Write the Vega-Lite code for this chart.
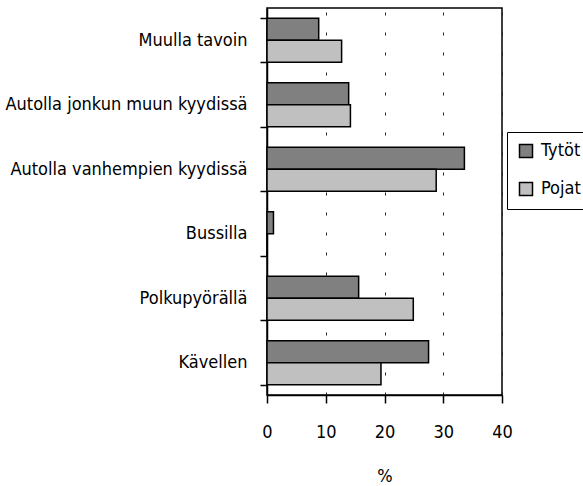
{
  "$schema": "https://vega.github.io/schema/vega-lite/v6.json",
  "width": 235,
  "height": 387,
  "autosize": "none",
  "padding": {"left": 267, "top": 8, "right": 81, "bottom": 91},
  "background": "white",
  "data": {
    "values": [
      {"mode": "Muulla tavoin", "sex": "Tytöt", "value": 8.8},
      {"mode": "Muulla tavoin", "sex": "Pojat", "value": 12.7},
      {"mode": "Autolla jonkun muun kyydissä", "sex": "Tytöt", "value": 13.9},
      {"mode": "Autolla jonkun muun kyydissä", "sex": "Pojat", "value": 14.2},
      {"mode": "Autolla vanhempien kyydissä", "sex": "Tytöt", "value": 33.6},
      {"mode": "Autolla vanhempien kyydissä", "sex": "Pojat", "value": 28.8},
      {"mode": "Bussilla", "sex": "Tytöt", "value": 1.1},
      {"mode": "Bussilla", "sex": "Pojat", "value": 0},
      {"mode": "Polkupyörällä", "sex": "Tytöt", "value": 15.6},
      {"mode": "Polkupyörällä", "sex": "Pojat", "value": 24.9},
      {"mode": "Kävellen", "sex": "Tytöt", "value": 27.5},
      {"mode": "Kävellen", "sex": "Pojat", "value": 19.4}
    ]
  },
  "mark": {"type": "bar", "stroke": "black", "strokeWidth": 1.5},
  "encoding": {
    "y": {
      "field": "mode",
      "type": "nominal",
      "sort": ["Muulla tavoin", "Autolla jonkun muun kyydissä", "Autolla vanhempien kyydissä", "Bussilla", "Polkupyörällä", "Kävellen"],
      "scale": {"paddingInner": 0.318, "paddingOuter": 0.159},
      "axis": {
        "title": null,
        "tickBand": "extent",
        "grid": false,
        "tickSize": 7,
        "labelPadding": 13,
        "labelFontSize": 18,
        "labelLimit": 300,
        "labelColor": "black",
        "domainColor": "black",
        "tickColor": "black",
        "domainWidth": 1.5,
        "tickWidth": 1.5
      }
    },
    "yOffset": {"field": "sex", "type": "nominal", "sort": ["Tytöt", "Pojat"], "scale": {"paddingInner": 0, "paddingOuter": 0}},
    "x": {
      "field": "value",
      "type": "quantitative",
      "scale": {"domain": [0, 40], "nice": false},
      "axis": {
        "values": [0, 10, 20, 30, 40],
        "title": "%",
        "titleFontSize": 18,
        "titleFontWeight": "normal",
        "titleColor": "black",
        "titlePadding": 26,
        "grid": true,
        "gridColor": "#222222",
        "gridDash": [3, 17],
        "gridWidth": 1,
        "tickSize": 8,
        "labelPadding": 20,
        "labelFontSize": 18,
        "labelFlush": false,
        "labelOverlap": false,
        "labelColor": "black",
        "domainColor": "black",
        "tickColor": "black",
        "domainWidth": 1.5,
        "tickWidth": 1.5
      }
    },
    "color": {
      "field": "sex",
      "type": "nominal",
      "scale": {"domain": ["Tytöt", "Pojat"], "range": ["#808080", "#c0c0c0"]},
      "legend": {
        "title": null,
        "orient": "none",
        "legendX": 240,
        "legendY": 124,
        "strokeColor": "black",
        "fillColor": "white",
        "padding": 10,
        "symbolType": "square",
        "symbolSize": 169,
        "symbolStrokeColor": "black",
        "symbolStrokeWidth": 1.5,
        "symbolOpacity": 1,
        "labelFontSize": 18,
        "labelColor": "black",
        "labelOffset": 6,
        "rowPadding": 18
      }
    }
  },
  "config": {
    "font": "DejaVu Sans Condensed, Liberation Sans, sans-serif",
    "view": {"stroke": "black", "strokeWidth": 1.5}
  }
}
